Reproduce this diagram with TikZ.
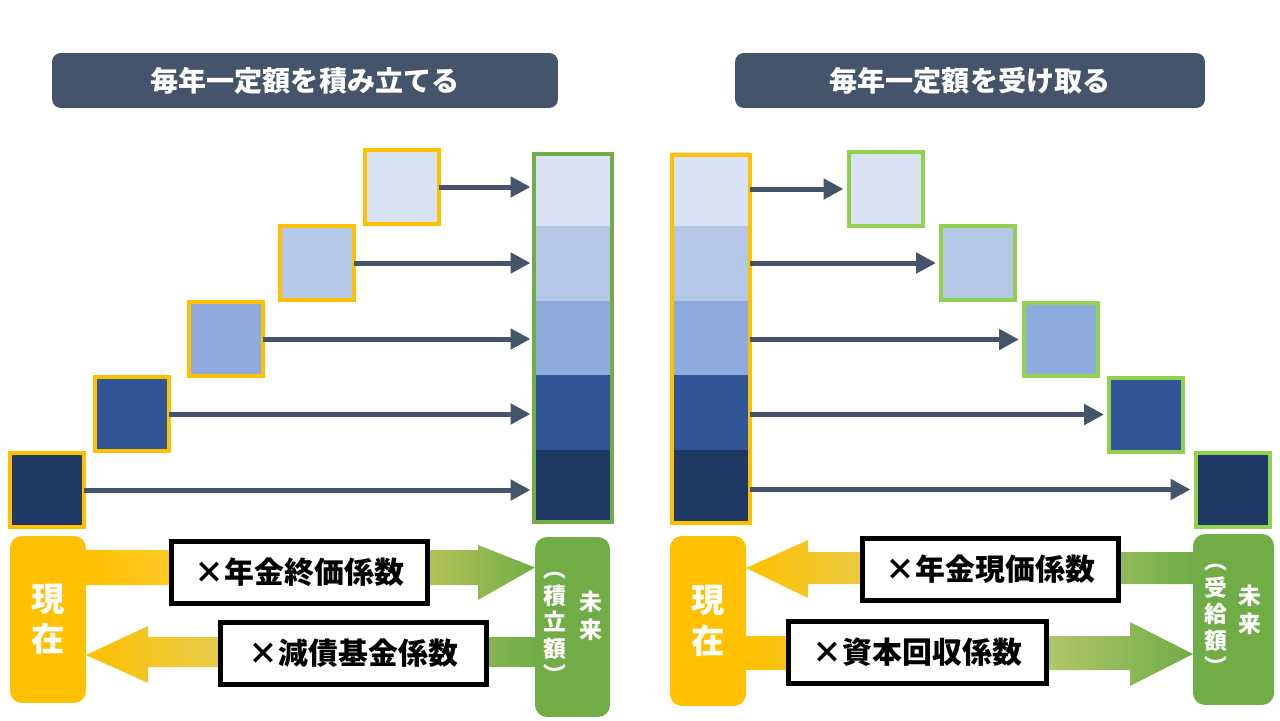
\documentclass[tikz,border=0pt]{standalone}
\usepackage{fontspec}
\setmainfont{Noto Sans CJK JP}
\usetikzlibrary{arrows.meta}
\definecolor{slate}{HTML}{44546A}
\definecolor{gold}{HTML}{FFC000}
\definecolor{leaf}{HTML}{70AD47}
\definecolor{lime}{HTML}{92D050}
\definecolor{c1}{HTML}{203864}
\definecolor{c2}{HTML}{2F5597}
\definecolor{c3}{HTML}{8FAADC}
\definecolor{c4}{HTML}{B4C7E7}
\definecolor{c5}{HTML}{DAE3F3}
\tikzset{
  title/.style={fill=slate, rounded corners=5pt, text=white, font=\bfseries\fontsize{16}{18}\selectfont, minimum height=1.1cm},
  sq/.style={draw=gold, line width=0.08cm, minimum size=1.48cm},
  sqg/.style={sq, draw=lime},
  seg/.style={minimum width=1.54cm, minimum height=1.488cm},
  frame/.style={draw=#1, line width=0.08cm, minimum width=1.56cm, minimum height=7.36cm},
  arr/.style={draw=slate, line width=0.1cm, -{Triangle[length=0.4cm,width=0.4cm]}},
  side/.style={fill=#1, rounded corners=0.24cm, text=white, font=\bfseries, align=center},
  lab/.style={draw=black, fill=white, line width=0.1cm, minimum height=1.24cm, font=\bfseries\fontsize{17}{20}\selectfont},
}
\begin{document}
\begin{tikzpicture}[x=0.02cm, y=-0.02cm, outer sep=0pt, inner sep=0pt]
    \useasboundingbox (0,0) rectangle (1280,720);
    \node[title, minimum width=10.12cm] (t1) at (305,80.5) {毎年一定額を積み立てる};
    \node[title, minimum width=9.4cm] (t2) at (970,80.5) {毎年一定額を受け取る};
    % left side
    \node[sq, fill=c1] (p1) at (47,490) {};
    \node[sq, fill=c2] (p2) at (132,414) {};
    \node[sq, fill=c3] (p3) at (226,339) {};
    \node[sq, fill=c4] (p4) at (317,263) {};
    \node[sq, fill=c5] (p5) at (402,187) {};
    \node[seg, fill=c5] (b5) at (572.5,189.2) {};
    \node[seg, fill=c4] (b4) at (572.5,263.6) {};
    \node[seg, fill=c3] (b3) at (572.5,338) {};
    \node[seg, fill=c2] (b2) at (572.5,412.4) {};
    \node[seg, fill=c1] (b1) at (572.5,486.8) {};
    \node[frame=leaf] (bar1) at (572.5,338) {};
    \foreach \i in {1,...,5}
      \draw[arr] (p\i.east) -- ([xshift=-0.06cm]p\i.east -| bar1.west);
    % right side
    \node[seg, fill=c5] (r5) at (711,189.2) {};
    \node[seg, fill=c4] (r4) at (711,263.6) {};
    \node[seg, fill=c3] (r3) at (711,338) {};
    \node[seg, fill=c2] (r2) at (711,412.4) {};
    \node[seg, fill=c1] (r1) at (711,486.8) {};
    \node[frame=gold] (bar2) at (711,339) {};
    \node[sqg, fill=c5] (q5) at (885.5,189) {};
    \node[sqg, fill=c4] (q4) at (978,263) {};
    \node[sqg, fill=c3] (q3) at (1061,339.5) {};
    \node[sqg, fill=c2] (q2) at (1146,414.5) {};
    \node[sqg, fill=c1] (q1) at (1232.5,489.5) {};
    \foreach \i in {1,...,5}
      \draw[arr] (bar2.east |- q\i.west) -- ([xshift=-0.1cm]q\i.west);
    % bottom
    \node[side=gold, minimum width=1.52cm, minimum height=3.34cm, font=\bfseries\fontsize{19}{23}\selectfont] (now1) at (48,619.5) {現\\在};
    \node[side=leaf, minimum width=1.5cm, minimum height=3.6cm] (fut1) at (572.5,627) {};
    \node[side=gold, minimum width=1.52cm, minimum height=3.4cm, font=\bfseries\fontsize{19}{23}\selectfont] (now2) at (708,621) {現\\在};
    \node[side=leaf, minimum width=1.62cm, minimum height=3.42cm] (fut2) at (1233.5,619.5) {};
    \node[text=white, font=\bfseries\fontsize{13}{16}\selectfont, align=center] (f1a) at (591,616) {未\\来};
    \node[text=white, font=\bfseries\fontsize{13}{15}\selectfont, align=center] (f1b) at (555,628) {︵\\積\\立\\額\\︶};
    \node[text=white, font=\bfseries\fontsize{13}{16}\selectfont, align=center] (f2a) at (1250,610) {未\\来};
    \node[text=white, font=\bfseries\fontsize{13}{15}\selectfont, align=center] (f2b) at (1216,620) {︵\\受\\給\\額\\︶};
    \shade[left color=gold, right color=leaf, middle color=gold!60]
      (now1.east |- 0,550) -- (478,550) -- (478,545) -- (fut1.west |- 0,567.5) -- (478,600) -- (478,585) -- (now1.east |- 0,585) -- cycle;
    \shade[left color=gold, right color=leaf, middle color=gold!50!leaf!60]
      (fut1.west |- 0,637) -- (148,637) -- (148,626) -- (now1.east |- 0,655) -- (148,683) -- (148,667) -- (fut1.west |- 0,667) -- cycle;
    \shade[left color=gold, right color=leaf, middle color=gold!50!leaf!60]
      (fut2.west |- 0,552) -- (808,552) -- (808,540) -- (now2.east |- 0,568) -- (808,598) -- (808,584) -- (fut2.west |- 0,584) -- cycle;
    \shade[left color=gold, right color=leaf, middle color=gold!50!leaf!60]
      (now2.east |- 0,636) -- (1130,636) -- (1130,622) -- (fut2.west |- 0,654) -- (1130,686) -- (1130,670) -- (now2.east |- 0,670) -- cycle;
    \node[lab, minimum width=5.14cm] (l1) at (299.5,572) {×年金終価係数};
    \node[lab, minimum width=5.34cm] (l2) at (353.5,653) {×減債基金係数};
    \node[lab, minimum width=5.14cm] (l3) at (990.5,569.5) {×年金現価係数};
    \node[lab, minimum width=5.18cm] (l4) at (917.5,652) {×資本回収係数};
\end{tikzpicture}
\end{document}
